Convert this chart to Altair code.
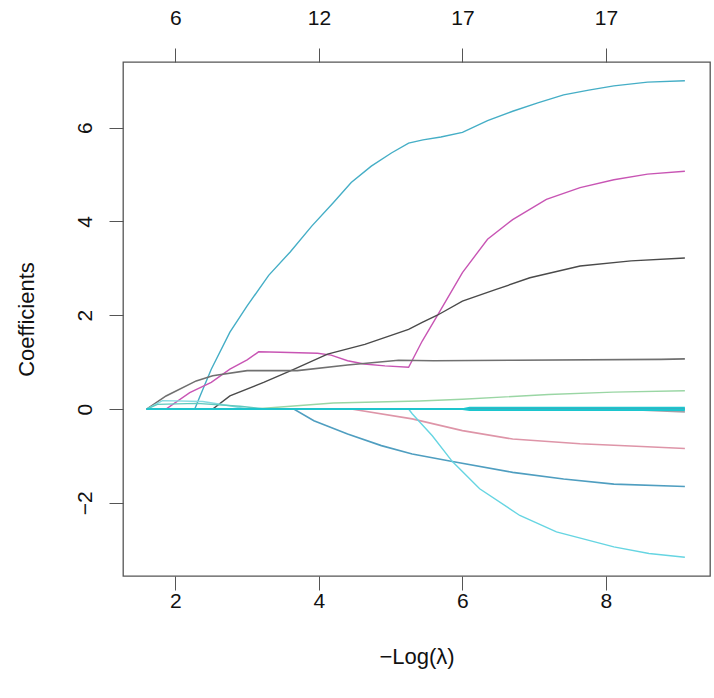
import altair as alt
import pandas as pd

# Lasso coefficient paths against -log(lambda)
path_names = ["v01", "v02", "v03", "v04", "v05", "v06", "v07", "v08", "v09", "v10", "v11", "v12", "v13", "v14"]

v01_x = [1.6, 2.27, 2.35, 2.5, 2.76, 3.0, 3.3, 3.6, 3.9, 4.2, 4.45, 4.73, 5.01, 5.25, 5.45, 5.7, 6.0, 6.35, 6.7, 7.05, 7.41, 7.76, 8.11, 8.58, 9.1]
v01_y = [0, 0, 0.3, 0.85, 1.64, 2.2, 2.85, 3.35, 3.9, 4.4, 4.83, 5.18, 5.46, 5.67, 5.74, 5.8, 5.9, 6.15, 6.35, 6.53, 6.70, 6.80, 6.89, 6.97, 7.0]

v02_x = [1.6, 1.87, 2.2, 2.5, 2.76, 3.0, 3.16, 3.46, 3.98, 4.17, 4.4, 4.63, 4.92, 5.25, 5.44, 5.65, 6.0, 6.35, 6.7, 7.17, 7.64, 8.11, 8.58, 9.1]
v02_y = [0, 0, 0.35, 0.57, 0.85, 1.05, 1.22, 1.21, 1.19, 1.15, 1.03, 0.96, 0.92, 0.89, 1.45, 1.99, 2.91, 3.62, 4.04, 4.47, 4.72, 4.89, 5.01, 5.07]

v03_x = [1.6, 2.52, 2.76, 3.23, 3.61, 4.12, 4.64, 5.25, 5.44, 5.65, 6.0, 6.47, 6.94, 7.64, 8.35, 9.1]
v03_y = [0, 0, 0.28, 0.57, 0.82, 1.17, 1.38, 1.70, 1.85, 2.0, 2.30, 2.55, 2.8, 3.05, 3.16, 3.22]

v04_x = [1.6, 1.87, 2.29, 2.52, 3.0, 3.7, 4.4, 5.11, 5.6, 6.7, 8.77, 9.1]
v04_y = [0, 0.28, 0.6, 0.71, 0.82, 0.82, 0.94, 1.04, 1.03, 1.04, 1.06, 1.07]

v05_x = [1.6, 3.1, 4.2, 5.4, 6.0, 7.2, 8.1, 9.1]
v05_y = [0, 0, 0.13, 0.17, 0.21, 0.31, 0.36, 0.39]

v06_x = [1.6, 4.45, 5.3, 6.0, 6.7, 7.64, 8.5, 9.1]
v06_y = [0, 0, -0.21, -0.46, -0.64, -0.74, -0.8, -0.84]

v07_x = [1.6, 3.65, 3.93, 4.4, 4.87, 5.3, 5.86, 6.7, 7.41, 8.11, 9.1]
v07_y = [0, 0, -0.25, -0.53, -0.78, -0.96, -1.12, -1.35, -1.49, -1.6, -1.65]

v08_x = [1.6, 5.25, 5.3, 5.58, 5.86, 6.24, 6.8, 7.31, 8.11, 8.6, 9.1]
v08_y = [0, 0, -0.1, -0.57, -1.12, -1.7, -2.27, -2.62, -2.94, -3.08, -3.16]

v09_x = [1.6, 1.82, 2.38, 2.76, 3.0, 9.1]
v09_y = [0, 0.18, 0.16, 0.07, 0, 0]

v10_x = [1.6, 1.75, 2.3, 2.9, 3.25, 9.1]
v10_y = [0, 0.1, 0.12, 0.06, 0, 0]

v11_x = [1.6, 8.1, 9.1]
v11_y = [0, 0, -0.06]

v12_x = [1.6, 5.3, 9.1]
v12_y = [0, 0, 0.0]

v13_x = [1.6, 6.0, 6.1, 9.1]
v13_y = [0, 0, 0.03, 0.03]

v14_x = [1.6, 6.0, 6.1, 9.1]
v14_y = [0, 0, -0.02, -0.02]

series_x = {"v01": v01_x, "v02": v02_x, "v03": v03_x, "v04": v04_x, "v05": v05_x,
            "v06": v06_x, "v07": v07_x, "v08": v08_x, "v09": v09_x, "v10": v10_x,
            "v11": v11_x, "v12": v12_x, "v13": v13_x, "v14": v14_x}
series_y = {"v01": v01_y, "v02": v02_y, "v03": v03_y, "v04": v04_y, "v05": v05_y,
            "v06": v06_y, "v07": v07_y, "v08": v08_y, "v09": v09_y, "v10": v10_y,
            "v11": v11_y, "v12": v12_y, "v13": v13_y, "v14": v14_y}

path_colors = {"v01": "#45AEC6", "v02": "#C855B4", "v03": "#4A4A4A", "v04": "#707070",
               "v05": "#9AD6A4", "v06": "#DE95A8", "v07": "#4F9EC0", "v08": "#66D5E2",
               "v09": "#86DAE0", "v10": "#62C9BE", "v11": "#A0A0A8", "v12": "#3F8DB0",
               "v13": "#1CC6CE", "v14": "#1CC6CE"}
path_widths = {"v01": 1.4, "v02": 1.4, "v03": 1.4, "v04": 1.6, "v05": 1.4, "v06": 1.6,
               "v07": 1.6, "v08": 1.4, "v09": 1.4, "v10": 1.4, "v11": 1.6, "v12": 1.6,
               "v13": 1.8, "v14": 1.8}

# Degrees of freedom shown along the top axis
df_at = [2, 4, 6, 8]
df_labels = ["6", "12", "17", "17"]

rows = []
for name in path_names:
    for i, (a, b) in enumerate(zip(series_x[name], series_y[name])):
        rows.append({"var": name, "lam": a, "coef": b, "w": path_widths[name], "i": i})
paths = pd.DataFrame(rows)

FONT = "Liberation Sans"
x_scale = alt.Scale(domain=[1.27, 9.45], nice=False, zero=False)
y_scale = alt.Scale(domain=[-3.56, 7.4], nice=False, zero=False)

lines = alt.Chart(paths).mark_line().encode(
    x=alt.X("lam:Q", scale=x_scale,
            axis=alt.Axis(values=df_at, title="\u2212Log(\u03bb)", orient="bottom",
                          format="d", labelFontSize=21, titleFontSize=22,
                          titleFontWeight="normal", tickSize=14, labelPadding=0,
                          titlePadding=35, domain=False, grid=False,
                          tickColor="#555555", labelColor="#111111", titleColor="#111111",
                          labelFont=FONT, titleFont=FONT)),
    y=alt.Y("coef:Q", scale=y_scale,
            axis=alt.Axis(values=[-2, 0, 2, 4, 6], title="Coefficients", format="d",
                          labelAngle=270, labelFontSize=21, titleFontSize=22,
                          titleFontWeight="normal", tickSize=14, labelPadding=14,
                          titlePadding=36, domain=False, grid=False,
                          tickColor="#555555", labelColor="#111111", titleColor="#111111",
                          labelFont=FONT, titleFont=FONT)),
    color=alt.Color("var:N",
                    scale=alt.Scale(domain=path_names, range=[path_colors[n] for n in path_names]),
                    legend=None),
    strokeWidth=alt.StrokeWidth("w:Q", scale=None, legend=None),
    order="i:Q",
)

df_table = pd.DataFrame({"lam": df_at, "lab": df_labels})
label_expr = " : ".join(
    [f"datum.value == {a} ? '{b}'" for a, b in zip(df_at, df_labels)] + ["''"]
)
top_axis = alt.Chart(df_table).mark_point(opacity=0).encode(
    x=alt.X("lam:Q", scale=x_scale,
            axis=alt.Axis(values=df_at, orient="top", title=None, labelExpr=label_expr,
                          labelFontSize=21, tickSize=14, labelPadding=20, domain=False,
                          grid=False, tickColor="#555555", labelColor="#111111",
                          labelFont=FONT)),
    y=alt.value(0),
)

chart = alt.layer(lines, top_axis).resolve_scale(x="shared").resolve_axis(x="independent").properties(
    width=587, height=514,
    autosize=alt.AutoSizeParams(type="none"),
    padding={"left": 123, "top": 62, "right": 4, "bottom": 122},
    background="white",
).configure_view(stroke="#555555", strokeWidth=1.3)

chart.save("out.html", embed_options={"renderer": "svg", "actions": False})
